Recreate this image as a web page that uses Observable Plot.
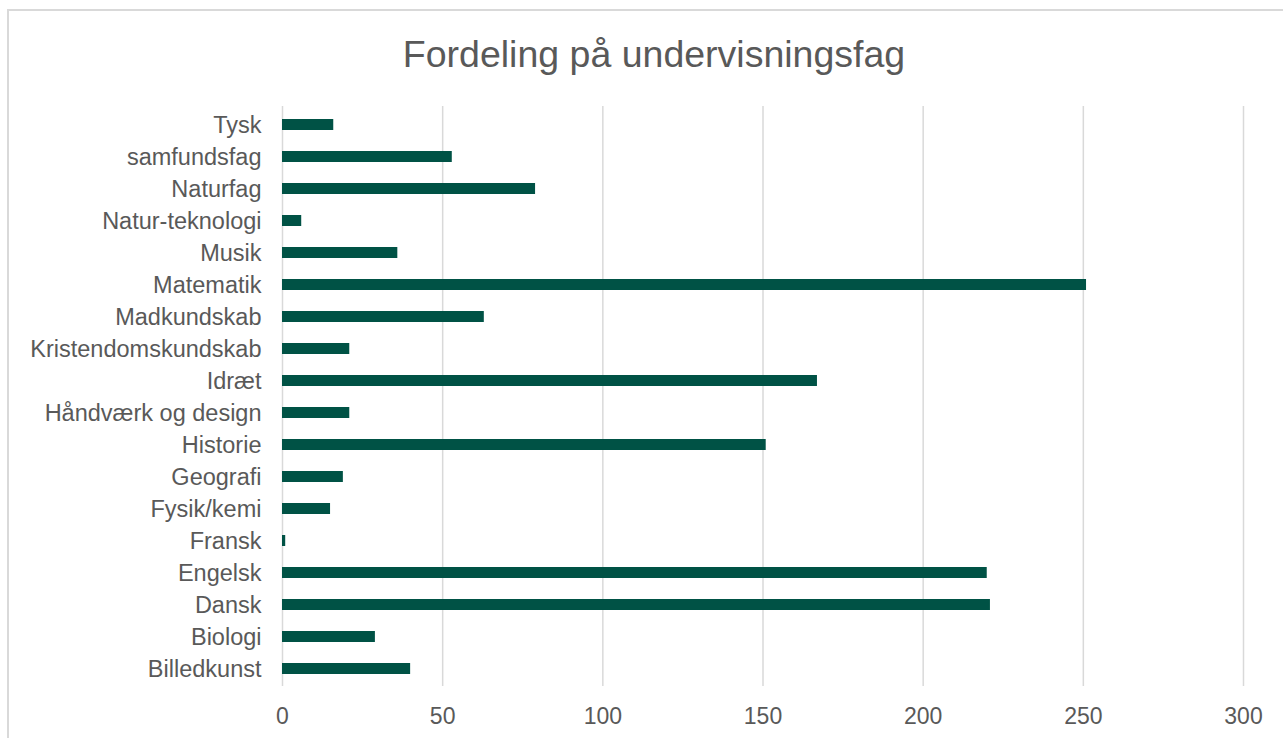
<!DOCTYPE html>
<html>
<head>
<meta charset="utf-8">
<script src="https://cdn.jsdelivr.net/npm/d3@7"></script>
<script src="https://cdn.jsdelivr.net/npm/@observablehq/plot@0.6"></script>
<style>
  html, body { margin: 0; padding: 0; background: #fff; }
  body { width: 1283px; height: 738px; overflow: hidden; position: relative; font-family: "Liberation Sans", Arial, sans-serif; }
  #frame { position: absolute; left: 7px; top: 9px; width: 1400px; height: 800px; border-top: 2px solid #d9d9d9; border-left: 2px solid #d9d9d9; box-sizing: border-box; }
  #title { position: absolute; left: 0; top: 0; width: 1283px; height: 90px; }
  #title div { position: absolute; top: 36px; left: 0; width: 1308px; text-align: center; font-size: 37.5px; line-height: 36px; color: #595959; font-family: "Liberation Sans", Arial, sans-serif; }
  #chart { position: absolute; left: 0; top: 90px; }
</style>
</head>
<body>
<div id="frame"></div>
<div id="title"><div>Fordeling på undervisningsfag</div></div>
<div id="chart"></div>
<script>
const categories = ["Tysk", "samfundsfag", "Naturfag", "Natur-teknologi", "Musik", "Matematik", "Madkundskab", "Kristendomskundskab", "Idræt", "Håndværk og design", "Historie", "Geografi", "Fysik/kemi", "Fransk", "Engelsk", "Dansk", "Biologi", "Billedkunst"];
const values = [16, 53, 79, 6, 36, 251, 63, 21, 167, 21, 151, 19, 15, 1, 220, 221, 29, 40];
const xTicks = [0, 50, 100, 150, 200, 250, 300];

const data = categories.map((c, i) => ({fag: c, antal: values[i]}));

const chart = Plot.plot({
  width: 1283,
  height: 648,
  marginLeft: 282,
  marginRight: 40,
  marginTop: 16,
  marginBottom: 52,
  style: {fontFamily: '"Liberation Sans", Arial, sans-serif', background: "transparent", color: "#595959"},
  x: {domain: [0, 300], ticks: xTicks, label: null},
  y: {domain: categories, label: null, paddingInner: 0.66, paddingOuter: 0.3},
  marks: [
    Plot.gridX(xTicks, {stroke: "#d9d9d9", strokeWidth: 1.5, strokeOpacity: 1}),
    Plot.barX(data, {x: "antal", y: "fag", fill: "#005245"}),
    Plot.axisX({ticks: xTicks, tickSize: 0, tickPadding: 21, fontSize: 23, fill: "#595959", label: null}),
    Plot.axisY({tickSize: 0, tickPadding: 21, fontSize: 23.5, fill: "#595959", label: null})
  ]
});
document.getElementById("chart").appendChild(chart);
</script>
</body>
</html>
